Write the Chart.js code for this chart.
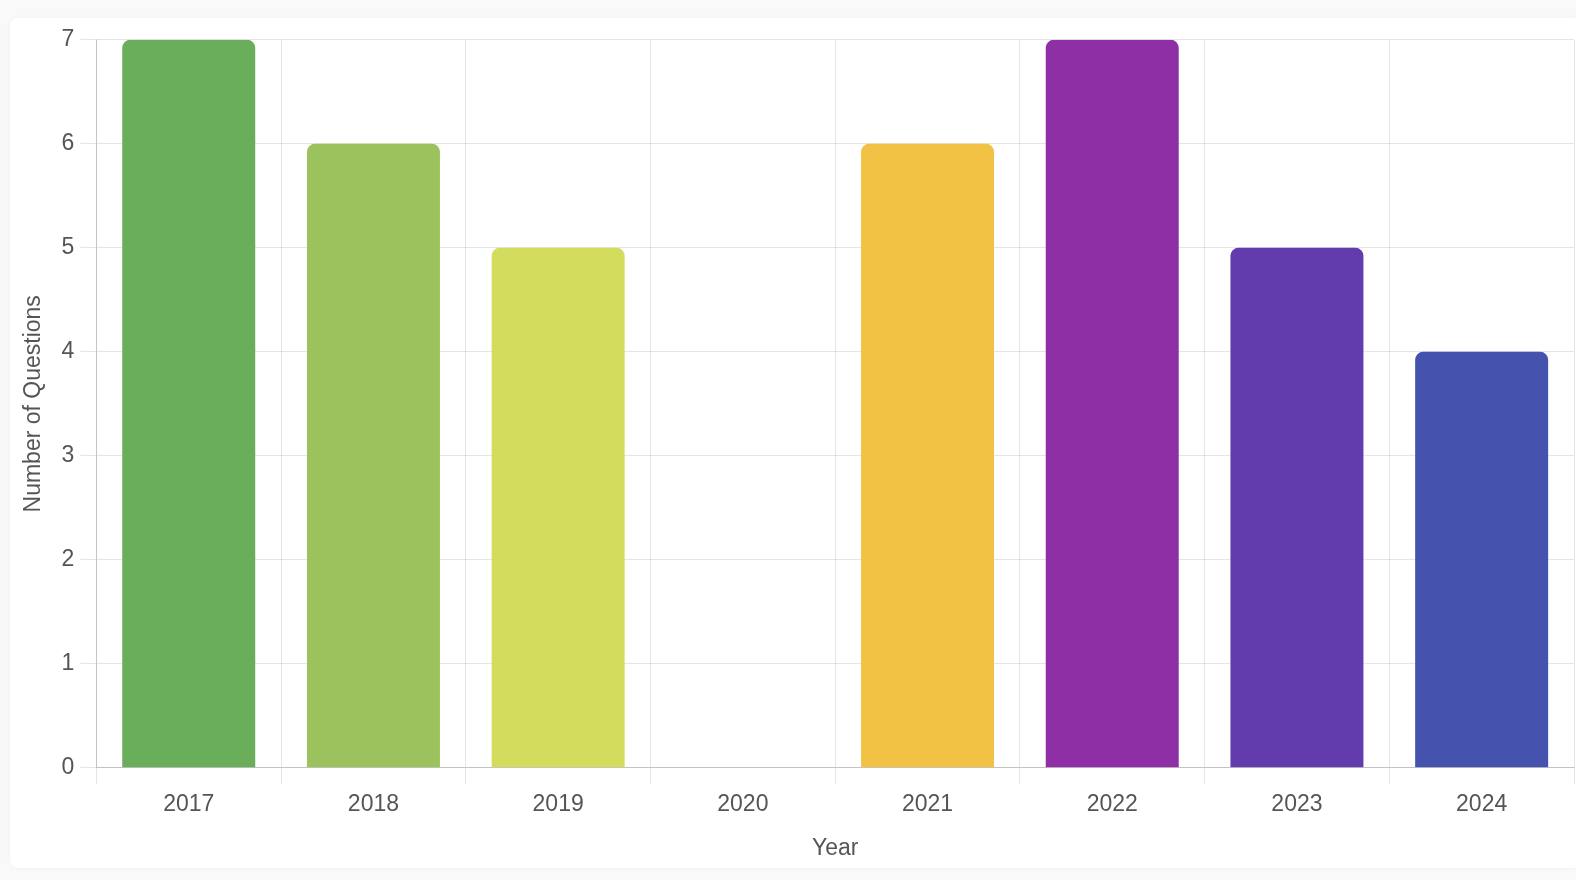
<!DOCTYPE html>
<html>
<head>
<meta charset="utf-8">
<script src="https://cdn.jsdelivr.net/npm/chart.js@4.4.0/dist/chart.umd.min.js"></script>
<style>
    html, body {
        margin: 0;
        padding: 0;
        background: #f9f9f9;
        width: 1576px;
        height: 880px;
        overflow: hidden;
    }
    .card {
        position: absolute;
        left: 10px;
        top: 18px;
        width: 1570px;
        height: 850px;
        background: #fff;
        border-radius: 8px;
        box-shadow: 0 0 4px rgba(0, 0, 0, 0.04);
    }
    .chart-box {
        position: absolute;
        left: 2px;
        top: 2px;
        width: 1564px;
        height: 850px;
    }
</style>
</head>
<body>
<div class="card">
    <div class="chart-box"><canvas id="questionsChart"></canvas></div>
</div>
<script>
// Questions per year
const years = ['2017', '2018', '2019', '2020', '2021', '2022', '2023', '2024'];
const questionCounts = [7, 6, 5, 0, 6, 7, 5, 4];
const barColors = ['#6aad5b', '#9bc25c', '#d3dc5c', '#e57373', '#f2c244', '#8e2fa6', '#623bac', '#4552ae'];
const yTicks = [0, 1, 2, 3, 4, 5, 6, 7];

const axisFont = { family: "'Liberation Sans', Arial, sans-serif", size: 23 };
const gridColor = 'rgba(0, 0, 0, 0.1)';

const ctx = document.getElementById('questionsChart');

new Chart(ctx, {
    type: 'bar',
    data: {
        labels: years,
        datasets: [{
            label: 'Number of Questions',
            data: questionCounts,
            backgroundColor: barColors,
            borderRadius: 8,
            borderSkipped: 'start'
        }]
    },
    options: {
        responsive: true,
        maintainAspectRatio: false,
        animation: false,
        devicePixelRatio: 1,
        layout: { padding: { top: 4, right: 2 } },
        plugins: {
            legend: { display: false },
            tooltip: { enabled: false }
        },
        scales: {
            x: {
                grid: { color: gridColor, tickLength: 16 },
                border: { color: 'rgba(0, 0, 0, 0.15)' },
                ticks: { color: '#555', font: axisFont, padding: 7 },
                title: {
                    display: true,
                    text: 'Year',
                    color: '#555',
                    font: axisFont,
                    padding: { top: 9, bottom: 8 }
                }
            },
            y: {
                beginAtZero: true,
                min: yTicks[0],
                max: yTicks[yTicks.length - 1],
                grid: { color: gridColor, tickLength: 16 },
                border: { color: 'rgba(0, 0, 0, 0.15)' },
                ticks: { stepSize: 1, color: '#555', font: axisFont, padding: 6 },
                title: {
                    display: true,
                    text: 'Number of Questions',
                    color: '#555',
                    font: axisFont,
                    padding: { top: 8, bottom: 8 }
                }
            }
        }
    }
});
</script>
</body>
</html>
